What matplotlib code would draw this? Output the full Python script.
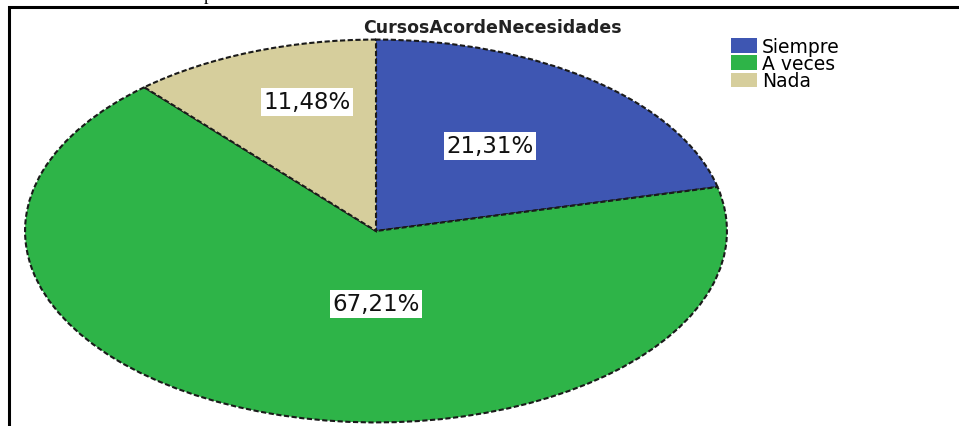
import matplotlib
matplotlib.use("Agg")
import matplotlib.pyplot as plt
from matplotlib.patches import Patch, Rectangle

# datos del grafico
categorias = ['Siempre', 'A veces', 'Nada']
porcentajes = [21.31, 67.21, 11.48]
etiquetas = ['21,31%', '67,21%', '11,48%']
colores = ['#3e56b2', '#2eb448', '#d6ce9c']
titulo = 'CursosAcordeNecesidades'

# donde van las etiquetas (coords del eje, -1..1)
pos_etiquetas = [(0.324, 0.445), (0.0, -0.38), (-0.196, 0.675)]

W, H = 959, 427
fig = plt.figure(figsize=(W / 100, H / 100), dpi=100)
fig.patch.set_facecolor('white')

# marco negro que se sale por la derecha y por abajo
fig.patches.append(Rectangle((9 / W, -0.05), 1.05, 1 - 8 / H + 0.05,
                             transform=fig.transFigure, fill=False,
                             edgecolor='black', lw=2.2))
# resto de texto cortado arriba (tambien cortado en el original)
fig.text(208 / W, 1 - 0.5 / H, 'p', family='Liberation Serif', fontsize=13,
         ha='center', va='baseline')

ax = fig.add_axes([24 / W, 3 / H, 704 / W, 384 / H])
wedges, _ = ax.pie(porcentajes, colors=colores, startangle=90, counterclock=False,
                   wedgeprops=dict(edgecolor='#1a1a1a', linewidth=1.5, linestyle=(0, (2.5, 1.2))))
ax.set_xlim(-1.003, 1.003)
ax.set_ylim(-1.003, 1.003)
ax.set_aspect('auto')
ax.axis('off')

for (x, y), txt in zip(pos_etiquetas, etiquetas):
    ax.text(x, y, txt, ha='center', va='center', fontsize=16.5, color='#111111',
            bbox=dict(boxstyle='square,pad=0.1', facecolor='white', edgecolor='none'))

fig.text(492 / W, 1 - 28 / H, titulo, ha='center', va='center', fontsize=12.5,
         fontweight='bold', color='#222222')

handles = [Patch(facecolor=c, edgecolor='none') for c in colores]
fig.legend(handles, categorias, loc='upper left', bbox_to_anchor=(731 / W, 1 - 38 / H),
           frameon=False, fontsize=13.5, handlelength=1.4, handleheight=0.8,
           handletextpad=0.25, labelspacing=-0.1, borderpad=0, borderaxespad=0)

fig.savefig('out.png', dpi=100)
